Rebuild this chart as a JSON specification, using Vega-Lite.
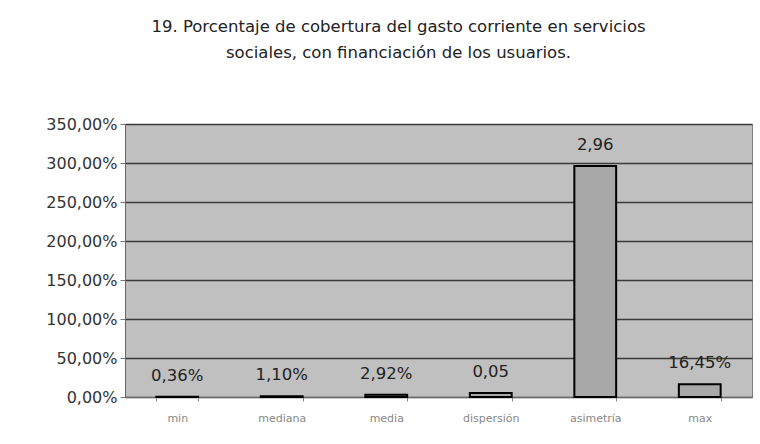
{
  "$schema": "https://vega.github.io/schema/vega-lite/v6.json",
  "width": 627,
  "height": 273,
  "autosize": {"type": "none"},
  "padding": {"left": 125, "top": 124, "right": 8, "bottom": 47},
  "background": "white",
  "config": {
    "locale": {"number": {"decimal": ",", "thousands": ".", "grouping": [3], "currency": ["", "€"]}},
    "font": "DejaVu Sans",
    "view": {"fill": "#c0c0c0", "stroke": "#808080", "strokeWidth": 1}
  },
  "title": {
    "text": ["19. Porcentaje de cobertura del gasto corriente en servicios", "sociales, con financiación de los usuarios."],
    "font": "DejaVu Sans",
    "fontSize": 16.5,
    "fontWeight": "normal",
    "color": "#222",
    "lineHeight": 26,
    "anchor": "middle",
    "frame": "group",
    "dx": -40,
    "offset": 55
  },
  "data": {
    "values": [
      {"stat": "min", "value": 0.0036, "label": "0,36%"},
      {"stat": "mediana", "value": 0.011, "label": "1,10%"},
      {"stat": "media", "value": 0.0292, "label": "2,92%"},
      {"stat": "dispersión", "value": 0.05, "label": "0,05"},
      {"stat": "asimetría", "value": 2.96, "label": "2,96"},
      {"stat": "max", "value": 0.1645, "label": "16,45%"}
    ]
  },
  "encoding": {
    "x": {
      "field": "stat", "type": "nominal", "sort": null,
      "scale": {"paddingInner": 0.6, "paddingOuter": 0.3},
      "axis": {
        "title": null, "labelAngle": 0, "labelFontSize": 11, "labelColor": "#888",
        "labelPadding": 11, "domainColor": "#666", "tickColor": "#888", "tickSize": 4,
        "tickBand": "extent"
      }
    },
    "y": {
      "field": "value", "type": "quantitative",
      "scale": {"domain": [0, 3.5], "nice": false},
      "axis": {
        "title": null, "format": ".2%", "values": [0, 0.5, 1, 1.5, 2, 2.5, 3, 3.5],
        "labelOverlap": false,
        "labelFontSize": 16, "labelColor": "#333", "labelPadding": 3,
        "tickSize": 5, "tickColor": "#777", "domainColor": "#666",
        "grid": true, "gridColor": "#3a3a3a", "gridWidth": 1.5
      }
    }
  },
  "layer": [
    {
      "mark": {"type": "bar", "fill": "#a8a8a8", "stroke": "#000", "strokeWidth": 2}
    },
    {
      "mark": {"type": "text", "dy": -21, "fontSize": 16.5, "color": "#222", "baseline": "middle"},
      "encoding": {"text": {"field": "label"}}
    }
  ]
}
